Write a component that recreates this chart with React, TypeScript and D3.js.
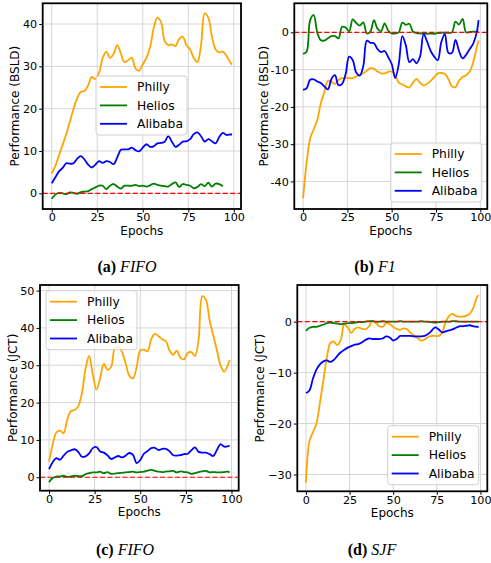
import React, { useRef, useEffect } from 'react';
import * as d3 from 'd3';

// epochs sampled every 2, plus the last one
const epochs = [0, 2, 4, 6, 8, 10, 12, 14, 16, 18, 20, 22, 24, 26, 28, 30, 32, 34, 36, 38, 40, 42, 44, 46, 48,
  50, 52, 54, 56, 58, 60, 62, 64, 66, 68, 70, 72, 74, 76, 78, 80, 82, 84, 86, 88, 90, 92, 94, 96, 98, 99];
const xTicks = [0, 25, 50, 75, 100];
const seriesNames = ['Philly', 'Helios', 'Alibaba'];

// (a) FIFO, BSLD
const phillyFifoBsld = [4.7, 6.5, 9, 11.5, 14, 17, 20, 22.5, 24, 24.2, 25.5, 27.5, 27, 28.5, 32, 33.5, 32, 33, 35, 33,
  31, 31.5, 32, 29.5, 29, 30.5, 32, 34.5, 39, 41.5, 40.5, 36, 35, 35.2, 34.8, 36.5, 37, 35, 34, 32,
  31, 35, 42.5, 41.5, 37, 34, 33.3, 33.5, 32.5, 31, 30.4];
const heliosFifoBsld = [-1.3, -0.3, 0.1, 0, -0.2, 0.2, 0.1, -0.1, 0.3, 0.4, 0.5, 1.0, 1.4, 1.8, 1.8, 1.0, 1.8, 2.2, 1.6, 1.1,
  1.8, 1.8, 1.8, 2.0, 1.7, 1.8, 1.6, 1.9, 2.3, 2.0, 1.8, 1.7, 1.6, 2.2, 2.6, 1.5, 2.2, 2.0, 1.8, 1.2,
  1.5, 2.2, 1.7, 2.5, 1.6, 2.3, 2.2, 1.7];
const alibabaFifoBsld = [2.4, 3.8, 5.2, 6.0, 7.1, 7.0, 7.1, 8.2, 8.8, 8.0, 6.8, 6.1, 6.8, 7.6, 7.2, 7.6, 7.4, 6.9, 8.5, 10.3,
  10.4, 10.4, 10.8, 10.2, 9.9, 10.8, 11.6, 11.0, 11.1, 11.8, 11.9, 12.2, 13.5, 12.2, 11.0, 11.5, 12.2, 12.3, 12.8, 14.0,
  14.4, 13.5, 12.2, 12.8, 12.3, 11.8, 13.3, 14.3, 13.8, 13.9, 13.9];

// (b) F1, BSLD
const phillyF1Bsld = [-44.5, -35, -28.5, -26, -23.5, -19, -16, -13, -13.3, -13.8, -12.8, -12.3, -12.2, -12.3, -12.3, -11.8, -11.3, -11, -10.3, -9.6,
  -9.8, -10.5, -11, -11, -10.6, -10.5, -11.5, -13.5, -14, -14.5, -14.8, -13.5, -12.5, -13.5, -14.3, -13.8, -13, -12, -11, -10.9,
  -11.2, -12.5, -14.5, -14.7, -13, -12, -11.5, -10.5, -8, -4, -2.2];
const heliosF1Bsld = [-5.8, -5.2, 3.3, 4.6, 0, -2.1, -2.2, -1.6, -1, -1, -1.6, 1.5, 1.3, 0.3, 3.5, 2.5, 1.8, 2.7, -0.3, 0.2,
  3.3, 1, 0.3, 2.4, 0.5, -0.3, -0.3, 0, 2.6, 2, 2.3, 0.2, -0.2, -0.3, -0.3, -0.4, -0.3, -0.4, -0.2, -0.1,
  -0.1, -0.1, 0, 2.9, 2.1, 3.6, 0, 0.1, 0.2, 0.2, 0.2];
const alibabaF1Bsld = [-15.4, -15, -12.7, -12.6, -13.2, -13.6, -14.5, -15.3, -12.5, -11.5, -14.2, -13.8, -11.2, -6.5, -7.4, -10.8, -11.6, -9, -2.2, -2.8,
  -2.9, -4.5, -5.3, -5, -6.6, -8.5, -12.3, -8.5, -1, -3.5, -8, -7.2, -8.3, -6.5, -0.5, -2.5, -5, -6.5, -7.5, -2.6,
  -0.5, -5.5, -5.5, -2, -5, -7, -6, -4.5, -3, 0, 3.3];

// (c) FIFO, JCT
const phillyFifoJct = [4.2, 8.8, 12, 12.5, 11.8, 15.5, 17.7, 18, 19, 22.5, 29, 32.5, 27.5, 23.5, 26.5, 30.4, 28.8, 29.5, 34.5, 35,
  33.5, 30.5, 27.2, 26.5, 29.5, 34, 34.2, 33.8, 37, 38.4, 37.8, 37, 36.5, 34, 32.8, 33.9, 32, 31.6, 33.3, 33.5,
  32.5, 37, 48.5, 47.5, 42, 38, 34, 30, 28.3, 30, 31.4];
const heliosFifoJct = [-1.3, -0.2, 0.2, 0.2, 0.4, 0.1, 0.2, 0.4, 0.3, 0.3, 0.8, 1.1, 1.3, 1.3, 1.5, 1.1, 1.4, 0.9, 1.0, 1.1,
  1.2, 1.3, 1.4, 1.5, 1.3, 1.4, 1.5, 1.8, 2.0, 1.7, 1.5, 1.4, 1.5, 1.6, 1.7, 1.3, 1.6, 1.4, 1.3, 0.9,
  1.1, 1.4, 1.6, 1.7, 1.3, 1.4, 1.3, 1.3, 1.4, 1.5, 1.3];
const alibabaFifoJct = [2.2, 4.0, 5.1, 4.7, 5.8, 6.8, 7.2, 7.5, 6.8, 5.5, 5.6, 6.4, 7.8, 8.1, 6.9, 6.6, 5.9, 4.9, 5.3, 5.7,
  5.3, 5.8, 6.5, 6.0, 3.8, 4.6, 6.3, 7.0, 7.8, 7.9, 7.3, 7.6, 7.6, 7.0, 5.9, 5.8, 5.9, 6.2, 6.3, 7.2,
  8.0, 6.8, 6.6, 6.6, 6.2, 5.7, 7.3, 8.9, 8.2, 8.3, 8.5];

// (d) SJF, JCT
const phillySjfJct = [-31.6, -23.5, -21.7, -20, -16, -11.5, -7, -4.2, -3.9, -4.6, -3.5, -0.5, -1.2, -2.2, -1.4, -1.1, -1.4, -1.5, -1, 0.2,
  -0.2, -0.9, -1, -0.3, -0.5, -1, -1.4, -1.6, -1.3, -1.5, -2.2, -2.7, -3.2, -3.7, -3.5, -3, -2.8, -2.8, -2.8, -2.2,
  -0.1, 1.1, 1.6, 1.1, 1, 1, 1.2, 1.6, 2.8, 4.8, 5.2];
const heliosSjfJct = [-1.8, -1.2, -1.0, -1.0, -0.8, -0.6, -0.3, -0.2, -0.3, -0.4, -0.5, -0.4, -0.3, -0.3, -0.2, -0.1, -0.1, 0, 0.1, 0.1,
  0, 0, 0.1, 0, 0, 0, 0, 0.1, 0, 0, 0, 0, 0, 0.1, 0, 0, -0.1, -0.2, -0.1, 0,
  0, 0, 0.1, 0.1, 0, 0, 0, 0, 0, 0, 0];
const alibabaSjfJct = [-14, -13.5, -11.2, -9.4, -8.4, -7.8, -7.6, -7.9, -7.5, -6.7, -6, -5.5, -5.1, -4.8, -4.5, -4.4, -4.1, -3.6, -3.3, -3.4,
  -3.4, -3.4, -3.3, -2.9, -3.1, -3.7, -3.4, -2.8, -2.8, -2.8, -2.8, -2.9, -2.9, -2.9, -2.8, -2.4, -1.8, -1.1, -1.5, -2.1,
  -1.9, -1.7, -1.5, -1.2, -0.9, -0.9, -0.8, -0.7, -0.9, -1, -1];

const colors = ['#ffa500', '#008000', '#0000ff'];
const SANS = "'DejaVu Sans', sans-serif";
const SERIF = "'Liberation Serif', 'Times New Roman', serif";

const panels = [
  { data: [phillyFifoBsld, heliosFifoBsld, alibabaFifoBsld], l: 42.7, r: 241, t: 3.3, b: 209,
    yDomain: [-3.7, 44.9], yTicks: [0, 10, 20, 30, 40], ylabel: 'Performance (BSLD)', ylabelX: 15,
    legend: [96, 76], caption: ['(a)', 'FIFO'], capX: 127, capY: 272, minus: '-' },
  { data: [phillyF1Bsld, heliosF1Bsld, alibabaF1Bsld], l: 294.3, r: 487.3, t: 3.3, b: 209,
    yDomain: [-47.4, 7.8], yTicks: [-40, -30, -20, -10, 0], ylabel: 'Performance (BSLD)', ylabelX: 264,
    legend: [390.7, 143], caption: ['(b)', 'F1'], capX: 375, capY: 272, minus: '-' },
  { data: [phillyFifoJct, heliosFifoJct, alibabaFifoJct], l: 40, r: 238.7, t: 285, b: 490.7,
    yDomain: [-3.6, 51.5], yTicks: [0, 10, 20, 30, 40, 50], ylabel: 'Performance (JCT)', ylabelX: 13,
    legend: [46, 290.7], caption: ['(c)', 'FIFO'], capX: 125, capY: 555, minus: '-' },
  { data: [phillySjfJct, heliosSjfJct, alibabaSjfJct], l: 297.3, r: 487.3, t: 285, b: 491.3,
    yDomain: [-33.3, 7.2], yTicks: [-30, -20, -10, 0], ylabel: 'Performance (JCT)', ylabelX: 260,
    legend: [387.7, 425.7], caption: ['(d)', 'SJF'], capX: 372, capY: 555, minus: '\u2212' },
];

function drawPanel(svg, p) {
  const x = d3.scaleLinear().domain([-4.95, 103.95]).range([p.l, p.r]);
  const y = d3.scaleLinear().domain(p.yDomain).range([p.b, p.t]);
  const g = svg.append('g');

  // grid
  g.selectAll('.gx').data(xTicks).join('line')
    .attr('x1', d => x(d)).attr('x2', d => x(d)).attr('y1', p.t).attr('y2', p.b)
    .attr('stroke', '#d6d6d6').attr('stroke-width', 1);
  g.selectAll('.gy').data(p.yTicks).join('line')
    .attr('y1', d => y(d)).attr('y2', d => y(d)).attr('x1', p.l).attr('x2', p.r)
    .attr('stroke', '#d6d6d6').attr('stroke-width', 1);

  const line = d3.line().x(d => x(d[0])).y(d => y(d[1])).curve(d3.curveCatmullRom.alpha(0.5));
  p.data.forEach((vals, i) => {
    g.append('path')
      .datum(vals.map((v, j) => [epochs[j], v]))
      .attr('d', line)
      .attr('fill', 'none')
      .attr('stroke', colors[i])
      .attr('stroke-width', 1.8)
      .attr('stroke-linejoin', 'round');
  });

  // zero reference
  g.append('line')
    .attr('x1', p.l).attr('x2', p.r).attr('y1', y(0)).attr('y2', y(0))
    .attr('stroke', '#ff0000').attr('stroke-width', 1.2).attr('stroke-dasharray', '5,2.5');

  // frame
  g.append('rect').attr('x', p.l).attr('y', p.t).attr('width', p.r - p.l).attr('height', p.b - p.t)
    .attr('fill', 'none').attr('stroke', '#000').attr('stroke-width', 1.8);

  const fmt = d => (d < 0 ? p.minus + Math.abs(d) : String(d));
  const ax = g.append('g').attr('transform', `translate(0,${p.b})`)
    .call(d3.axisBottom(x).tickValues(xTicks).tickSize(3.5).tickPadding(0.8).tickFormat(d3.format('d')));
  const ay = g.append('g').attr('transform', `translate(${p.l},0)`)
    .call(d3.axisLeft(y).tickValues(p.yTicks).tickSize(3.5).tickPadding(2).tickFormat(fmt));
  [ax, ay].forEach(a => {
    a.select('.domain').remove();
    a.attr('font-size', 11.2).attr('font-family', SANS);
    a.selectAll('text').attr('fill', '#000');
    a.selectAll('line').attr('stroke', '#000').attr('stroke-width', 1);
  });

  g.append('text').attr('x', (p.l + p.r) / 2).attr('y', p.b + 21.5).attr('dy', '0.35em')
    .attr('text-anchor', 'middle').attr('font-size', 12).attr('font-family', SANS).text('Epochs');
  g.append('text')
    .attr('transform', `translate(${p.ylabelX},${(p.t + p.b) / 2}) rotate(-90)`)
    .attr('dy', '0.35em').attr('text-anchor', 'middle').attr('font-size', 12).attr('font-family', SANS)
    .text(p.ylabel);

  // legend
  const [lx, ly] = p.legend;
  const lg = g.append('g').attr('transform', `translate(${lx},${ly})`);
  lg.append('rect').attr('width', 91).attr('height', 59).attr('rx', 3)
    .attr('fill', 'rgba(255,255,255,0.8)').attr('stroke', '#d0d0d0').attr('stroke-width', 1);
  seriesNames.forEach((name, i) => {
    const yy = 11 + i * 18.4;
    lg.append('line').attr('x1', 4).attr('x2', 31).attr('y1', yy).attr('y2', yy)
      .attr('stroke', colors[i]).attr('stroke-width', 1.8);
    lg.append('text').attr('x', 41).attr('y', yy).attr('dy', '0.35em')
      .attr('font-size', 12.3).attr('font-family', SANS).text(name);
  });

  // caption
  const cap = svg.append('text').attr('x', p.capX).attr('y', p.capY)
    .attr('text-anchor', 'middle').attr('font-size', 16).attr('font-family', SERIF);
  cap.append('tspan').attr('font-weight', 'bold').text(p.caption[0]);
  cap.append('tspan').attr('font-style', 'italic').text(' ' + p.caption[1]);
}

function App() {
  const ref = useRef(null);
  useEffect(() => {
    const svg = d3.select(ref.current);
    svg.selectAll('*').remove();
    panels.forEach(p => drawPanel(svg, p));
  }, []);
  return (
    <svg ref={ref} width={491} height={563}
      style={{ position: 'absolute', left: 0, top: 0, background: '#fff' }} />
  );
}

export default App;
